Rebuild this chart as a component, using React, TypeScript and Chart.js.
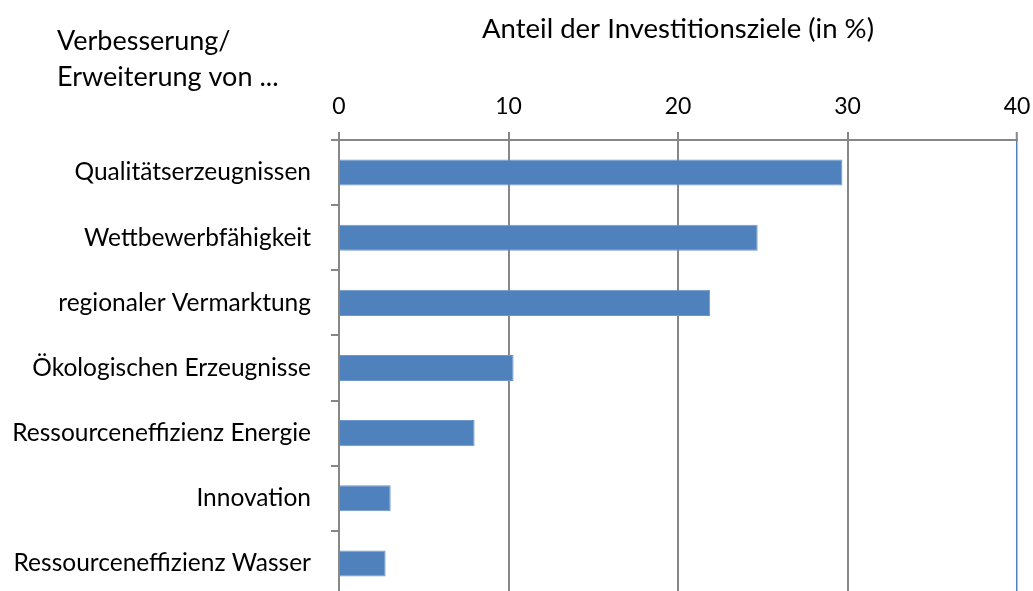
import React, { useEffect, useRef } from "react";
import { Chart, registerables } from "chart.js";
Chart.register(...registerables);

const categories = [
  "Qualitätserzeugnissen",
  "Wettbewerbfähigkeit",
  "regionaler Vermarktung",
  "Ökologischen Erzeugnisse",
  "Ressourceneffizienz Energie",
  "Innovation",
  "Ressourceneffizienz Wasser",
];
const values = [29.7, 24.7, 21.9, 10.3, 8.0, 3.05, 2.75];
const xMin = 0;
const xMax = 40;
const xStep = 10;
const axisTitle = "Anteil der Investitionsziele (in %)";
const cornerLabel = ["Verbesserung/", "Erweiterung von ..."];

const FONT = "Lato";
const GRID = "#878787";
const BAR = "#4F81BD";

const cornerPlugin = {
  id: "cornerLabel",
  afterDraw(chart: any) {
    const ctx = chart.ctx;
    ctx.save();
    ctx.font = `27px ${FONT}`;
    ctx.fillStyle = "#000";
    ctx.textAlign = "left";
    ctx.textBaseline = "alphabetic";
    ctx.fillText(cornerLabel[0], 57, 50);
    ctx.fillText(cornerLabel[1], 57, 86);
    ctx.restore();
  },
};

export default function App() {
  const ref = useRef<HTMLCanvasElement>(null);
  useEffect(() => {
    if (!ref.current) return;
    const chart = new Chart(ref.current, {
      type: "bar",
      data: {
        labels: categories,
        datasets: [
          {
            data: values,
            backgroundColor: BAR,
            borderColor: "#6d97cc",
            borderWidth: 1,
            borderSkipped: "left",
            categoryPercentage: 1,
            barPercentage: 0.4,
          },
        ],
      },
      options: {
        indexAxis: "y",
        animation: false,
        responsive: false,
        devicePixelRatio: 1,
        layout: { padding: { left: 0, right: 16, top: 0, bottom: 4 } },
        plugins: { legend: { display: false }, tooltip: { enabled: false }, title: { display: false } },
        scales: {
          x: {
            position: "top",
            min: xMin,
            max: xMax,
            afterFit(scale: any) {
              scale.height = 140;
              scale.paddingLeft = 0;
              scale.paddingRight = 0;
              scale.paddingTop = 0;
              scale.paddingBottom = 0;
            },
            ticks: {
              stepSize: xStep,
              color: "#000",
              font: { family: FONT, size: 23 },
              padding: 12,
            },
            title: {
              display: true,
              text: axisTitle,
              color: "#000",
              font: { family: FONT, size: 27.5 },
              padding: { top: 13, bottom: 0 },
            },
            grid: {
              color: (c: any) => (c.tick && c.tick.value === 40 ? BAR : GRID),
              lineWidth: (c: any) => (c.tick && c.tick.value === 40 ? 1.5 : 2),
              tickLength: 8,
              tickColor: GRID,
              tickWidth: 2,
            },
            border: { display: true, color: GRID, width: 2 },
          },
          y: {
            afterFit(scale: any) {
              scale.width = 339;
              scale.paddingLeft = 0;
              scale.paddingRight = 0;
              scale.paddingTop = 0;
              scale.paddingBottom = 0;
            },
            ticks: {
              color: "#000",
              font: { family: FONT, size: 24.5 },
              padding: 20,
            },
            grid: {
              display: true,
              drawOnChartArea: false,
              offset: true,
              tickLength: 8,
              color: GRID,
              lineWidth: 2,
            },
            border: { display: true, color: GRID, width: 2 },
          },
        },
      },
      plugins: [cornerPlugin],
    });
    return () => chart.destroy();
  }, []);
  return (
    <div style={{ position: "fixed", left: 0, top: 0, width: 1033, height: 591, overflow: "hidden", background: "#fff" }}>
      <canvas ref={ref} width={1033} height={600} style={{ display: "block" }} />
    </div>
  );
}
